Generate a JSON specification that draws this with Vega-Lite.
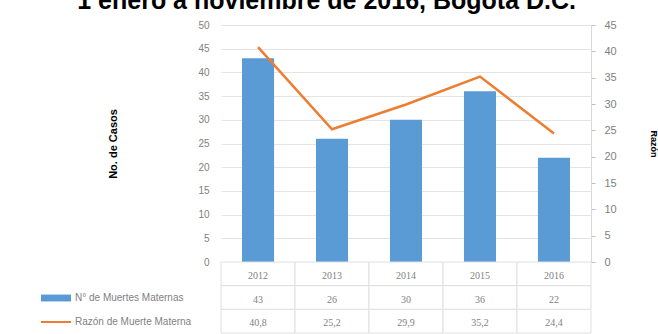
{
  "$schema": "https://vega.github.io/schema/vega-lite/v6.json",
  "padding": {"left": 40, "top": -11, "right": 0, "bottom": 0},
  "background": "white",
  "bounds": "flush",
  "title": {"text": "1 enero a noviembre de 2016, Bogotá D.C.", "font": "Liberation Sans", "fontSize": 25, "fontWeight": "bold", "color": "#000000", "anchor": "middle", "offset": 5, "dx": -22},
  "config": {
    "view": {"stroke": null},
    "font": "Liberation Sans",
    "axis": {"labelFont": "Liberation Sans", "labelFontSize": 10, "labelColor": "#7f7f7f"},
    "legend": {"labelFont": "Liberation Sans", "labelFontSize": 10, "labelColor": "#7f7f7f"}
  },
  "spacing": 0,
  "vconcat": [
    {
      "width": 370,
      "height": 237,
      "data": {"values": [
        {"anio": "2012", "casos": 43, "razon": 40.8},
        {"anio": "2013", "casos": 26, "razon": 25.2},
        {"anio": "2014", "casos": 30, "razon": 29.9},
        {"anio": "2015", "casos": 36, "razon": 35.2},
        {"anio": "2016", "casos": 22, "razon": 24.4}
      ]},
      "encoding": {
        "x": {"field": "anio", "type": "ordinal", "scale": {"paddingInner": 0.567, "paddingOuter": 0.284}, "axis": null}
      },
      "layer": [
        {
          "mark": {"type": "bar"},
          "encoding": {
            "y": {"field": "casos", "type": "quantitative", "scale": {"domain": [0, 50]},
              "axis": {"orient": "left", "values": [0,5,10,15,20,25,30,35,40,45,50], "grid": true, "gridColor": "#e4e4e4", "domain": false, "ticks": false, "labelPadding": 12,
                "title": "No. de Casos", "titleFontWeight": "bold", "titleFontSize": 11, "titleColor": "#000000", "titlePadding": 79}},
            "color": {"datum": "N° de Muertes Maternas", "scale": {"range": ["#5B9BD5"]},
              "legend": {"title": null, "orient": "none", "legendX": -181, "legendY": 257, "padding": 0, "symbolType": "M-1,-0.23H1V0.23H-1Z", "symbolSize": 900, "symbolOpacity": 1, "labelOffset": 3}}
          }
        },
        {
          "mark": {"type": "line", "strokeWidth": 2.5},
          "encoding": {
            "y": {"field": "razon", "type": "quantitative", "scale": {"domain": [0, 45]},
              "axis": {"orient": "right", "values": [0,5,10,15,20,25,30,35,40,45], "grid": false, "domain": true, "domainColor": "#d9d9d9", "ticks": true, "tickSize": 4, "tickColor": "#bfbfbf", "labelPadding": 9, "labelFontSize": 11,
                "title": "Razón", "titleFontWeight": "bold", "titleFontSize": 9, "titleColor": "#000000", "titlePadding": 32}},
            "stroke": {"datum": "Razón de Muerte Materna", "scale": {"range": ["#ED7D31"]},
              "legend": {"title": null, "orient": "none", "legendX": -181, "legendY": 281, "padding": 0, "symbolType": "stroke", "symbolSize": 900, "symbolStrokeWidth": 2, "labelOffset": 3}}
          }
        }
      ],
      "resolve": {"scale": {"y": "independent"}}
    },
    {
      "width": 370,
      "height": 71,
      "data": {"values": [
        {"anio": "2012", "fila": "a", "valor": "2012"},
        {"anio": "2013", "fila": "a", "valor": "2013"},
        {"anio": "2014", "fila": "a", "valor": "2014"},
        {"anio": "2015", "fila": "a", "valor": "2015"},
        {"anio": "2016", "fila": "a", "valor": "2016"},
        {"anio": "2012", "fila": "b", "valor": "43"},
        {"anio": "2013", "fila": "b", "valor": "26"},
        {"anio": "2014", "fila": "b", "valor": "30"},
        {"anio": "2015", "fila": "b", "valor": "36"},
        {"anio": "2016", "fila": "b", "valor": "22"},
        {"anio": "2012", "fila": "c", "valor": "40,8"},
        {"anio": "2013", "fila": "c", "valor": "25,2"},
        {"anio": "2014", "fila": "c", "valor": "29,9"},
        {"anio": "2015", "fila": "c", "valor": "35,2"},
        {"anio": "2016", "fila": "c", "valor": "24,4"}
      ]},
      "encoding": {
        "x": {"field": "anio", "type": "ordinal", "scale": {"paddingInner": 0, "paddingOuter": 0}, "axis": null},
        "y": {"field": "fila", "type": "ordinal", "scale": {"paddingInner": 0, "paddingOuter": 0}, "axis": null}
      },
      "layer": [
        {"mark": {"type": "rect", "fill": "white", "stroke": "#e0e0e0", "strokeWidth": 1}},
        {"mark": {"type": "text", "fontSize": 10, "color": "#7f7f7f", "font": "Liberation Serif", "baseline": "middle", "dy": 2}, "encoding": {"text": {"field": "valor", "type": "nominal"}}}
      ]
    }
  ]
}
